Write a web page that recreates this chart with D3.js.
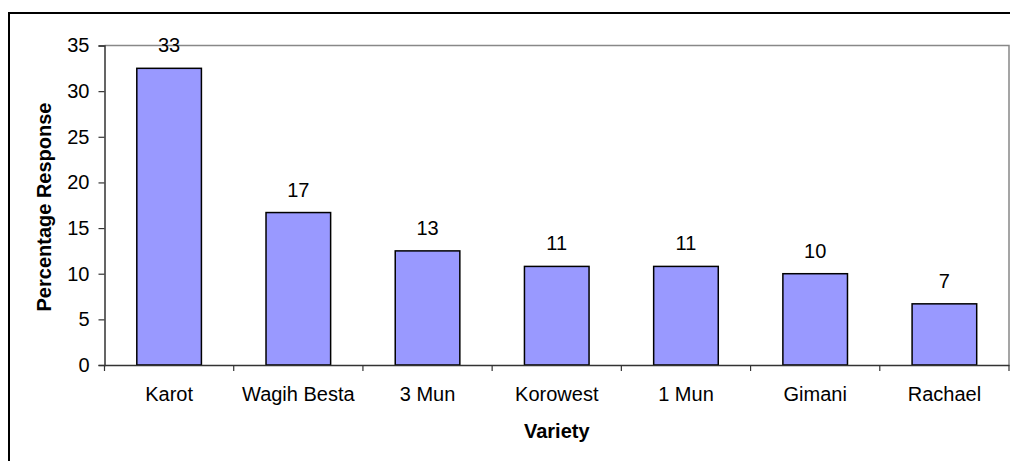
<!DOCTYPE html>
<html><head><meta charset="utf-8">
<script src="https://cdn.jsdelivr.net/npm/d3@7"></script>
<style>body{margin:0;background:#fff}svg{display:block;font-family:"Liberation Sans",Arial,sans-serif}</style>
</head><body><svg id="c" width="1010" height="461"></svg>
<script>
const categories = ["Karot","Wagih Besta","3 Mun","Korowest","1 Mun","Gimani","Rachael"];
const values = [32.5, 16.7, 12.5, 10.8, 10.8, 10.0, 6.7];
const labels = ["33","17","13","11","11","10","7"];
const yTicks = [0,5,10,15,20,25,30,35];
const yTitle = "Percentage Response";
const xTitle = "Variety";

const svg = d3.select("#c");
// outer chart border
svg.append("rect").attr("x",9).attr("y",13).attr("width",1010).attr("height",470)
  .attr("fill","none").attr("stroke","#000").attr("stroke-width",2);

const L=104.5, R=1009, T=45.5, B=365;
const x = d3.scaleBand().domain(categories).range([L,R]).paddingInner(0).paddingOuter(0);
const y = d3.scaleLinear().domain([0,35]).range([B,T]);

// plot border top/right
svg.append("path").attr("d",`M${L},${T}H${R}V${B}`).attr("fill","none").attr("stroke","#888").attr("stroke-width",1.5);

// bars
const bw = x.bandwidth()/2;
svg.selectAll("rect.bar").data(values).join("rect").attr("class","bar")
  .attr("x",(d,i)=>x(categories[i])+x.bandwidth()/4)
  .attr("y",d=>y(d)).attr("width",bw).attr("height",d=>y(0)-y(d))
  .attr("fill","#9999ff").attr("stroke","#000").attr("stroke-width",1.5);

// data labels
svg.selectAll("text.lbl").data(values).join("text").attr("class","lbl")
  .attr("x",(d,i)=>x(categories[i])+x.bandwidth()/2)
  .attr("y",d=>y(d)-16).attr("text-anchor","middle")
  .attr("font-size",20).attr("fill","#000").text((d,i)=>labels[i]);

// y axis
const ya = svg.append("g").attr("transform",`translate(${L},0)`)
  .call(d3.axisLeft(y).tickValues(yTicks).tickSize(6).tickPadding(9).tickFormat(d3.format("d")));
ya.select(".domain").attr("stroke","#333").attr("stroke-width",1.5);
ya.selectAll(".tick line").attr("stroke","#333").attr("stroke-width",1.2);
ya.selectAll(".tick text").attr("font-size",20).attr("fill","#000").attr("font-family","Liberation Sans, Arial, sans-serif");

// x axis
const xa = svg.append("g").attr("transform",`translate(0,${B})`)
  .call(d3.axisBottom(x).tickSize(0).tickPadding(22));
xa.select(".domain").attr("stroke","#333").attr("stroke-width",1.5);
xa.selectAll(".tick text").attr("font-size",20).attr("fill","#000").attr("font-family","Liberation Sans, Arial, sans-serif");
// boundary ticks
const bounds = categories.map(c=>x(c)).concat([R]);
svg.selectAll("line.xt").data(bounds).join("line").attr("class","xt")
  .attr("x1",d=>d).attr("x2",d=>d).attr("y1",B).attr("y2",B+6)
  .attr("stroke","#333").attr("stroke-width",1.2);

// titles
svg.append("text").attr("transform",`translate(51,207) rotate(-90)`)
  .attr("text-anchor","middle").attr("font-size",20).attr("font-weight","bold").text(yTitle);
svg.append("text").attr("x",(L+R)/2).attr("y",438).attr("text-anchor","middle")
  .attr("font-size",20).attr("font-weight","bold").text(xTitle);
</script></body></html>
